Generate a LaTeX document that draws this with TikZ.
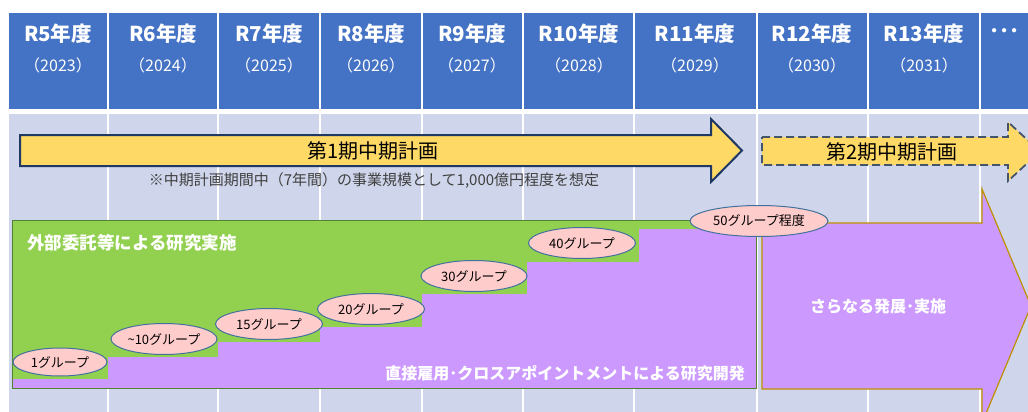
\documentclass[tikz,border=0pt]{standalone}
\usepackage{fontspec}
\setmainfont{Noto Sans CJK JP}
\usetikzlibrary{shapes.geometric}
\definecolor{hdrblue}{HTML}{4472C4}
\definecolor{bodybg}{HTML}{CFD5EA}
\definecolor{yel}{HTML}{FFD966}
\definecolor{navy}{HTML}{1F3864}
\definecolor{dashgray}{HTML}{44546A}
\definecolor{grn}{HTML}{92D050}
\definecolor{grnline}{HTML}{548235}
\definecolor{purp}{HTML}{CC99FF}
\definecolor{gold}{HTML}{BF9000}
\definecolor{pink}{HTML}{FFCCCC}
\definecolor{ellline}{HTML}{41719C}
\definecolor{notegray}{HTML}{404040}
\tikzset{
  hcell/.style={fill=hdrblue,draw=white,line width=1.5pt},
  bcell/.style={fill=bodybg,draw=white,line width=1.5pt},
  yeartxt/.style={text=white,font=\fontsize{20.5}{24}\selectfont\bfseries,inner sep=0pt},
  ytxt/.style={text=white,font=\fontsize{16}{19}\selectfont,inner sep=0pt},
  grp/.style={ellipse,fill=pink,draw=ellline,line width=1pt,inner sep=0pt,minimum height=31pt,font=\fontsize{13}{15}\selectfont},
  wtxt/.style={text=white,inner sep=0pt,font=\fontsize{16}{19}\selectfont\bfseries},
  plantxt/.style={inner sep=0pt,font=\fontsize{20}{24}\selectfont}
}
\begin{document}
\begin{tikzpicture}[x=1pt,y=-1pt]
\useasboundingbox (0,0) rectangle (1028,412);
\clip (0,0) rectangle (1028,412);
\fill[white] (0,0) rectangle (1028,412);
% columns
\foreach \a/\b [count=\i] in {8/108,108/218,218/320,320/422,422/523,523/634,634/757,757/868,868/980,980/1040}{
  \draw[hcell] (\a,12) rectangle (\b,110);
  \draw[bcell] (\a,113) rectangle (\b,420);
}
\node[yeartxt] (h1) at (58,34) {R5年度};
\node[yeartxt] (h2) at (163,34) {R6年度};
\node[yeartxt] (h3) at (269,34) {R7年度};
\node[yeartxt] (h4) at (371,34) {R8年度};
\node[yeartxt] (h5) at (472,34) {R9年度};
\node[yeartxt] (h6) at (579,34) {R10年度};
\node[yeartxt] (h7) at (695,34) {R11年度};
\node[yeartxt] (h8) at (812,34) {R12年度};
\node[yeartxt] (h9) at (924,34) {R13年度};
\node[yeartxt,anchor=west] (h10) at (989,34) {･･･};
\node[ytxt] (y1) at (58,65) {（2023）};
\node[ytxt] (y2) at (163,65) {（2024）};
\node[ytxt] (y3) at (269,65) {（2025）};
\node[ytxt] (y4) at (371,65) {（2026）};
\node[ytxt] (y5) at (472,65) {（2027）};
\node[ytxt] (y6) at (579,65) {（2028）};
\node[ytxt] (y7) at (695,65) {（2029）};
\node[ytxt] (y8) at (812,65) {（2030）};
\node[ytxt] (y9) at (924,65) {（2031）};
% plan arrows
\draw[fill=yel,draw=navy,line width=2pt,line join=miter]
  (20,135) -- (711,135) -- (711,119) -- (742,150.5) -- (711,182) -- (711,166) -- (20,166) -- cycle;
\node[plantxt] (p1) at (373,151) {第1期中期計画};
\node[inner sep=0pt,text=notegray,font=\fontsize{15}{18}\selectfont] (note) at (374,181) {※中期計画期間中（7年間）の事業規模として1,000億円程度を想定};
\draw[fill=yel,draw=dashgray,line width=1.8pt,dash pattern=on 8pt off 4pt,line join=miter]
  (762,137) -- (1008,137) -- (1008,122) -- (1040,151.5) -- (1008,181) -- (1008,165) -- (762,165) -- cycle;
\node[plantxt] (p2) at (892,152) {第2期中期計画};
% staircase
\fill[grn] (12,220) rectangle (756,388);
\fill[purp] (12,388) -- (12,379) -- (108,379) -- (108,357) -- (218,357) -- (218,342) -- (320,342) -- (320,327) -- (422,327) -- (422,294) -- (527,294) -- (527,262) -- (639,262) -- (639,229) -- (756,229) -- (756,388) -- cycle;
\draw[grnline,line width=1pt] (12,220) rectangle (756,388);
\node[wtxt,anchor=west,font=\fontsize{17.5}{21}\selectfont\bfseries] (ext) at (27,243) {外部委託等による研究実施};
\node[wtxt,anchor=east] (dir) at (745,373) {直接雇用･クロスアポイントメントによる研究開発};
% further arrow
\draw[fill=purp,draw=gold,line width=1.2pt,line join=miter]
  (762,223) -- (982,223) -- (982,189) -- (1031,306) -- (982,423) -- (982,389) -- (762,389) -- cycle;
\node[wtxt] (fur) at (878,306) {さらなる発展･実施};
% ellipses
\node[grp,minimum width=94pt,minimum height=28pt] (g1) at (60,362) {1グループ};
\node[grp,minimum width=106pt] (g2) at (164,339) {\textasciitilde10グループ};
\node[grp,minimum width=107pt] (g3) at (269,324) {15グループ};
\node[grp,minimum width=107pt] (g4) at (371,309) {20グループ};
\node[grp,minimum width=106pt] (g5) at (474,276) {30グループ};
\node[grp,minimum width=107pt] (g6) at (582,243) {40グループ};
\node[grp,minimum width=138pt] (g7) at (759,221) {50グループ程度};
\end{tikzpicture}
\end{document}
